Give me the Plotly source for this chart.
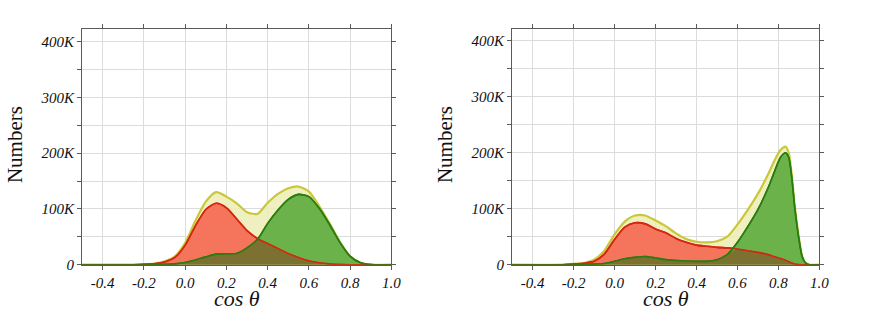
import numpy as np
import plotly.graph_objects as go

# ---------------- data (values in thousands) ----------------
x_left = [-0.5, -0.25, -0.2, -0.15, -0.1, -0.05, 0.0, 0.05, 0.1, 0.15, 0.2, 0.25, 0.3,
          0.35, 0.4, 0.45, 0.5, 0.55, 0.6, 0.65, 0.7, 0.75, 0.8, 0.85, 0.9, 1.0]
red_left = [0, 0, 0.5, 1.5, 5, 13, 35, 70, 99, 110, 102, 82, 61,
            47, 38, 29, 20, 13, 7, 3.5, 1.5, 0.5, 0, 0, 0, 0]
green_left = [0, 0, 0, 0.3, 0.8, 1.5, 4, 8.5, 14, 19, 19.5, 20, 30,
              45, 74, 98, 117, 126, 122, 101, 72, 40, 15, 3.5, 0.3, 0]
total_left = [0, 0, 0.5, 1.8, 6, 15, 39, 79, 113, 130, 122, 110, 94,
              91, 111, 127, 137, 140, 131, 105, 74, 41, 15, 3.5, 0.3, 0]

x_right = [-0.5, -0.25, -0.2, -0.15, -0.1, -0.05, 0.0, 0.05, 0.1, 0.15, 0.2, 0.25, 0.3,
           0.35, 0.4, 0.45, 0.5, 0.55, 0.6, 0.65, 0.7, 0.75, 0.78, 0.81, 0.835, 0.85,
           0.865, 0.88, 0.9, 0.915, 0.93, 0.95, 1.0]
red_right = [0, 0, 1, 2.5, 6, 19, 45, 67, 75, 73, 64, 57, 47,
             40, 35, 33, 31, 30, 28, 25, 22, 18, 14.5, 11, 8, 5.5,
             3, 1.2, 0.3, 0, 0, 0, 0]
green_right = [0, 0, 0, 0.3, 1, 2, 6, 10.5, 13, 14.5, 12, 9, 7.5,
               6.5, 6, 6, 9, 18, 40, 68, 99, 138, 166, 192, 200, 192,
               155, 100, 45, 15, 4, 0, 0]
total_right = [0, 0, 1.5, 3, 9, 25, 54, 77, 88, 88, 79, 69, 56,
               46, 41, 40, 42, 50, 72, 98, 127, 162, 186, 205, 211, 200,
               160, 103, 48, 16, 4, 0.3, 0]

y_tickvals = [0, 50, 100, 150, 200, 250, 300, 350, 400]
y_ticktext = ["0", "", "100K", "", "200K", "", "300K", "", "400K"]
x_tickvals = [-0.4, -0.2, 0.0, 0.2, 0.4, 0.6, 0.8, 1.0]
x_ticktext = ["-0.4", "-0.2", "0.0", "0.2", "0.4", "0.6", "0.8", "1.0"]

# ---------------- styling ----------------
W, H = 870, 319
SERIF = "Liberation Serif, Times New Roman, serif"
YEL_FILL = "rgba(236,236,180,0.85)"
YEL_LINE = "#c9c83a"
RED_FILL = "#f4755c"
RED_LINE = "#d5260f"
GRN_FILL = "#6cb24b"
GRN_LINE = "#2a7c10"
OLV_FILL = "#7c7131"
SMOOTH = 0.7

fig = go.Figure()


def add_panel(xs, red, green, total, xa, ya):
    xs = np.array(xs, dtype=float)
    r = np.array(red, dtype=float) * 1000
    g = np.array(green, dtype=float) * 1000
    t = np.array(total, dtype=float) * 1000
    ov = np.minimum(r, g)
    common = dict(x=xs, xaxis=xa, yaxis=ya, mode="lines", showlegend=False,
                  hoverinfo="skip")
    fig.add_trace(go.Scatter(y=t, fill="tozeroy", fillcolor=YEL_FILL,
                             line=dict(color=YEL_LINE, width=2.2, shape="spline", smoothing=SMOOTH),
                             **common))
    fig.add_trace(go.Scatter(y=r, fill="tozeroy", fillcolor=RED_FILL,
                             line=dict(color=RED_LINE, width=1.6, shape="spline", smoothing=SMOOTH),
                             **common))
    fig.add_trace(go.Scatter(y=g, fill="tozeroy", fillcolor=GRN_FILL,
                             line=dict(color=GRN_LINE, width=1.6, shape="spline", smoothing=SMOOTH),
                             **common))
    fig.add_trace(go.Scatter(y=ov, fill="tozeroy", fillcolor=OLV_FILL,
                             line=dict(color=OLV_FILL, width=0.5, shape="spline", smoothing=SMOOTH),
                             **common))
    fig.add_trace(go.Scatter(y=r, line=dict(color=RED_LINE, width=1.6, shape="spline", smoothing=SMOOTH),
                             **common))
    fig.add_trace(go.Scatter(y=g, line=dict(color=GRN_LINE, width=1.6, shape="spline", smoothing=SMOOTH),
                             **common))


add_panel(x_left, red_left, green_left, total_left, "x", "y")
add_panel(x_right, red_right, green_right, total_right, "x2", "y2")

axis_common = dict(showline=True, linecolor="#5a5a5a", linewidth=1, mirror="ticks",
                   ticks="outside", ticklen=4, tickcolor="#5a5a5a",
                   showgrid=True, gridcolor="#dcdcdc", gridwidth=1, zeroline=False,
                   tickfont=dict(family=SERIF, size=15, color="#111", style="italic"))

L = (83, 396)
R = (518, 829)
top, bot = 30, 271.5
ydom = [(H - bot) / H, (H - top) / H]

fig.update_layout(
    width=W, height=H, margin=dict(l=0, r=0, t=0, b=0),
    paper_bgcolor="white", plot_bgcolor="white",
    xaxis=dict(domain=[L[0] / W, L[1] / W], range=[-0.5, 1.0], tickvals=x_tickvals,
               ticktext=x_ticktext, anchor="y", **axis_common),
    yaxis=dict(domain=ydom, range=[0, 422000], tickvals=[v * 1000 for v in y_tickvals],
               ticktext=y_ticktext, anchor="x", **axis_common),
    xaxis2=dict(domain=[R[0] / W, R[1] / W], range=[-0.5, 1.0], tickvals=x_tickvals,
                ticktext=x_ticktext, anchor="y2", **axis_common),
    yaxis2=dict(domain=ydom, range=[0, 421000], tickvals=[v * 1000 for v in y_tickvals],
                ticktext=y_ticktext, anchor="x2", **axis_common),
)

for cx in [(L[0] + L[1]) / 2, (R[0] + R[1]) / 2]:
    fig.add_annotation(text="cos θ", xref="paper", yref="paper", x=cx / W, y=(H - 306) / H,
                       showarrow=False, xanchor="center", yanchor="middle",
                       font=dict(family=SERIF, size=22, color="#111", style="italic"))
for cx in [15, 450]:
    fig.add_annotation(text="Numbers", xref="paper", yref="paper", x=cx / W, y=(H - 148) / H,
                       showarrow=False, xanchor="center", yanchor="middle", textangle=-90,
                       font=dict(family=SERIF, size=21, color="#111"))

fig.write_html("out.html")
